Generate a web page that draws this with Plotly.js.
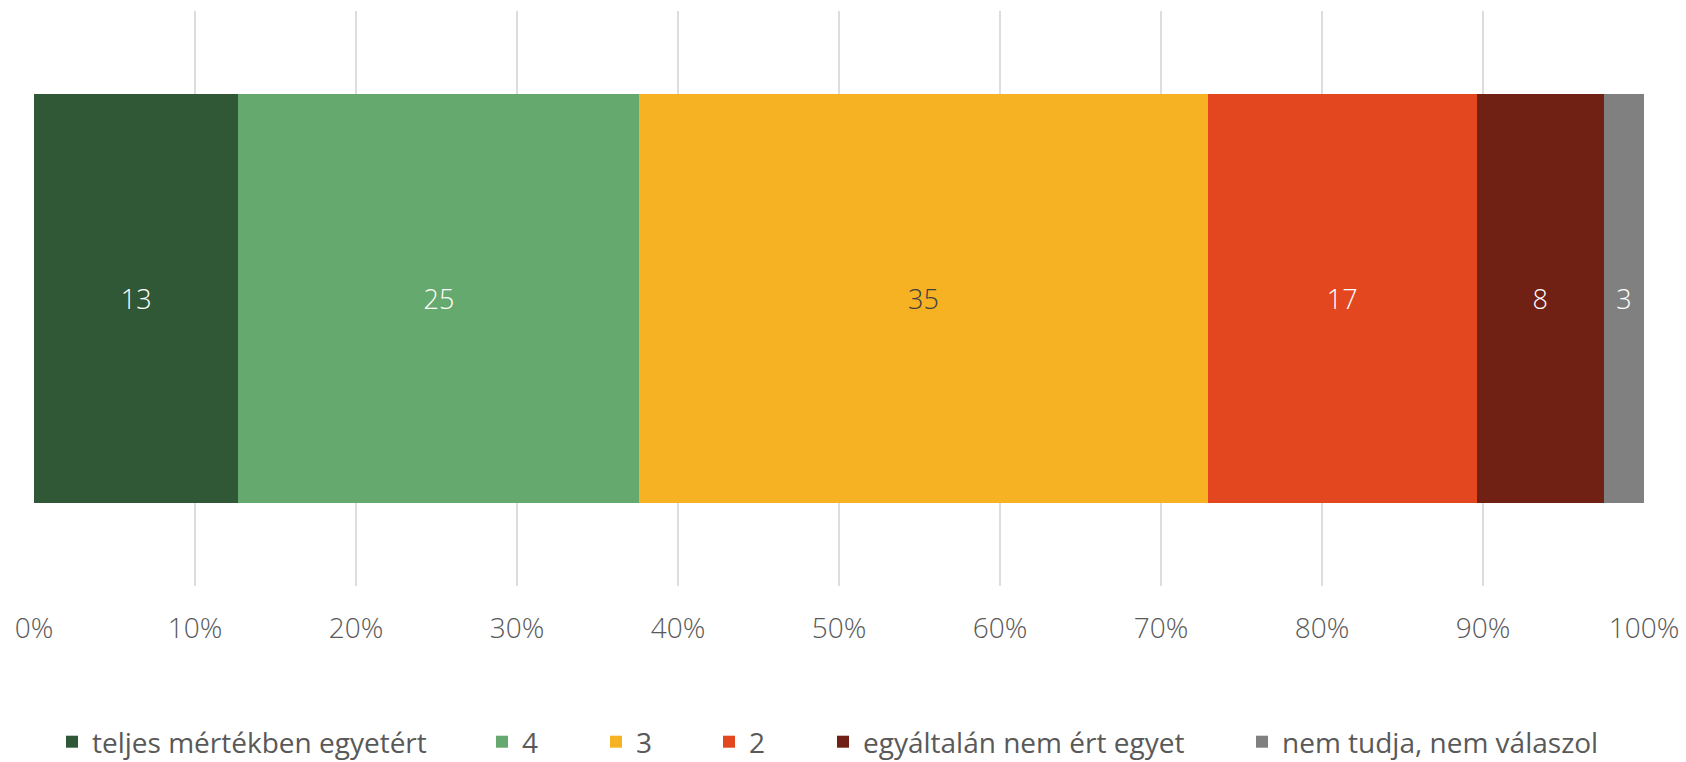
<!DOCTYPE html>
<html>
<head>
<meta charset="utf-8">
<script src="https://cdn.plot.ly/plotly-3.0.1.min.js"></script>
<style>html,body{margin:0;padding:0;background:#fff;}#chart{width:1686px;height:762px;}</style>
</head>
<body>
<div id="chart"></div>
<script>
// Data
const categories = ['teljes mértékben egyetért', '4', '3', '2', 'egyáltalán nem ért egyet', 'nem tudja, nem válaszol'];
const values = [12.7, 24.9, 35.3, 16.7, 7.9, 2.5];
const rowLabel = [' '];

// Styles
const colors = ['#305736', '#66A96E', '#F7B223', '#E2471F', '#702113', '#808080'];
const textColors = ['#FFFFFF', '#FFFFFF', '#404040', '#FFFFFF', '#FFFFFF', '#FFFFFF'];
const legendX = [52, 482, 596, 709, 823, 1242];

const FONT = '"Open Sans", "Liberation Sans", sans-serif';
const FS = 27;
const LFS = 28;

const traces = categories.map((name, i) => ({
  type: 'bar',
  orientation: 'h',
  name: name,
  x: [values[i]],
  y: rowLabel,
  marker: { color: colors[i], line: { width: 0 } },
  texttemplate: '%{x:.0f}',
  textposition: 'inside',
  insidetextanchor: 'middle',
  textangle: 0,
  constraintext: 'none',
  insidetextfont: { family: FONT, size: FS, color: textColors[i], weight: 300 },
  hoverinfo: 'name+x',
  legend: i === 0 ? 'legend' : 'legend' + (i + 1)
}));

const layout = {
  width: 1686,
  height: 762,
  margin: { l: 33.5, r: 42, t: 10.5, b: 176 },
  paper_bgcolor: '#FFFFFF',
  plot_bgcolor: '#FFFFFF',
  barmode: 'stack',
  bargap: 0.29,
  font: { family: FONT, size: FS, color: '#595959' },
  showlegend: true,
  xaxis: {
    range: [0, 100],
    tickmode: 'linear',
    tick0: 0,
    dtick: 10,
    ticksuffix: '%',
    showticksuffix: 'all',
    showgrid: true,
    gridcolor: '#DDDDDD',
    gridwidth: 2,
    zeroline: false,
    showline: false,
    ticks: '',
    ticklabelstandoff: 23,
    tickfont: { family: FONT, size: LFS, color: '#595959', weight: 300 },
    fixedrange: true
  },
  yaxis: {
    visible: false,
    range: [-0.5, 0.5],
    fixedrange: true
  }
};

legendX.forEach((lx, i) => {
  const key = i === 0 ? 'legend' : 'legend' + (i + 1);
  layout[key] = {
    orientation: 'h',
    xref: 'container',
    yref: 'container',
    x: lx / 1686,
    y: 20 / 762,
    xanchor: 'left',
    yanchor: 'middle',
    bgcolor: 'rgba(0,0,0,0)',
    borderwidth: 0,
    font: { family: FONT, size: LFS, color: '#595959' },
    itemclick: false,
    itemdoubleclick: false
  };
});

Plotly.newPlot('chart', traces, layout, { displayModeBar: false });
</script>
</body>
</html>
